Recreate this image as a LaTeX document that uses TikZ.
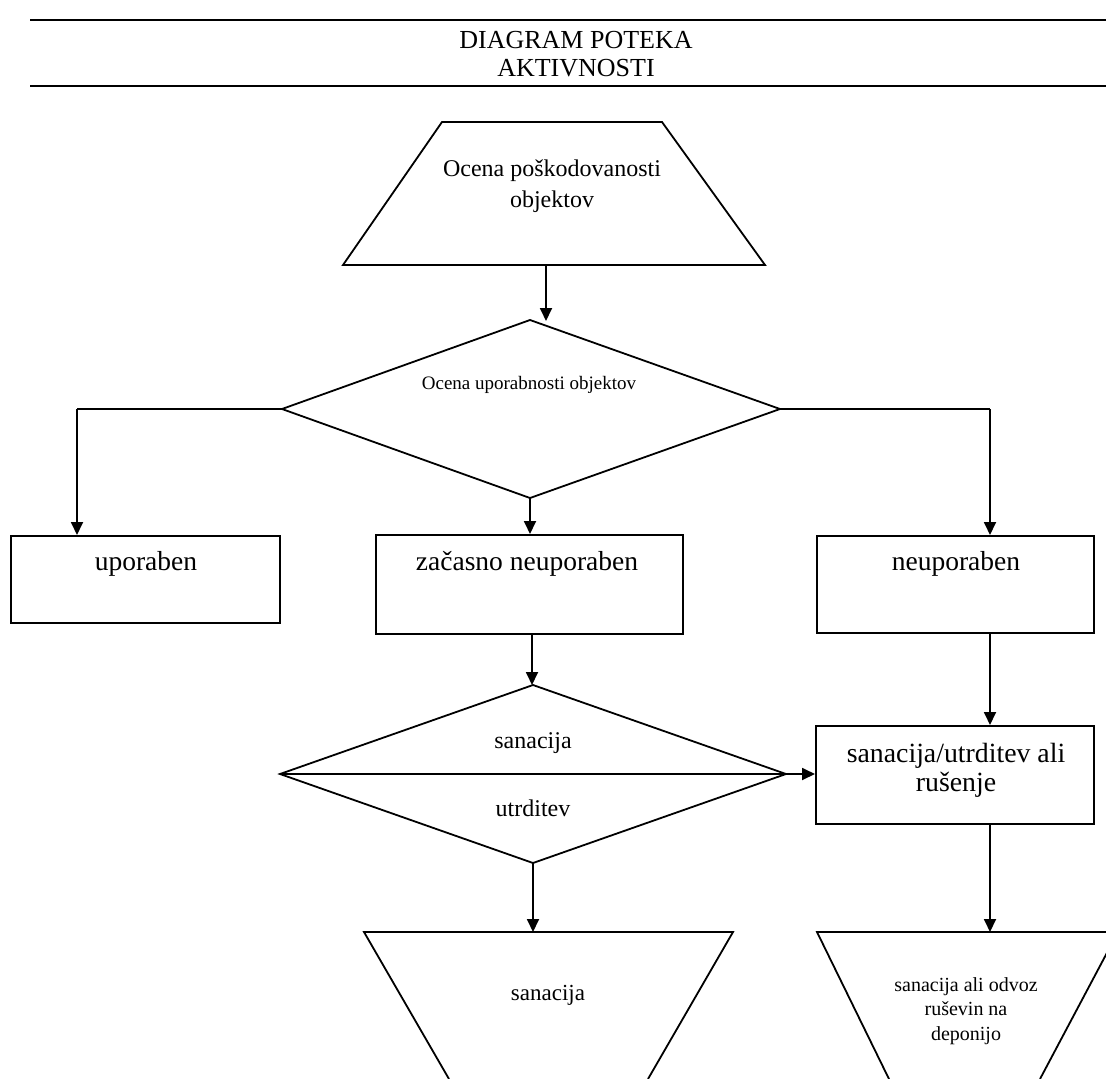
\documentclass[tikz,border=0pt]{standalone}
\usepackage{fontspec}
\setmainfont{Liberation Serif}
\usetikzlibrary{arrows.meta}
\begin{document}
\begin{tikzpicture}[x=1pt,y=-1pt,
  ln/.style={line width=1.8pt, line join=miter},
  arr/.style={ln, -{Triangle[length=13pt,width=12pt]}},
  hdr/.style={line width=2.8pt},
  boxst/.style={ln, draw, rectangle, inner sep=0pt, anchor=north west},
  txt/.style={inner sep=0pt, anchor=base, align=center},
  ]
\useasboundingbox (0,0) rectangle (1106,1079);
% header
\coordinate (h1a) at (30,20); \coordinate (h1b) at (1106,20);
\coordinate (h2a) at (30,86); \coordinate (h2b) at (1106,86);
\draw[hdr] (h1a) -- (h1b);
\draw[hdr] (h2a) -- (h2b);
\node[txt, font=\fontsize{26}{28}\selectfont] (title) at (576,76) {DIAGRAM POTEKA\\AKTIVNOSTI};
% top trapezoid
\coordinate (tA) at (442,122); \coordinate (tB) at (662,122);
\coordinate (tC) at (765,265); \coordinate (tD) at (343,265);
\draw[ln] (tA) -- (tB) -- (tC) -- (tD) -- cycle;
\node[txt, font=\fontsize{24}{31}\selectfont] (ttext) at (552,207) {Ocena poškodovanosti\\objektov};
% diamond 1
\coordinate (d1t) at (530,320); \coordinate (d1r) at (780,409);
\coordinate (d1b) at (530,498); \coordinate (d1l) at (282,409);
\draw[ln] (d1t) -- (d1r) -- (d1b) -- (d1l) -- cycle;
\node[txt, font=\fontsize{19}{22}\selectfont] (d1text) at (529,389) {Ocena uporabnosti objektov};
% boxes
\node[boxst, minimum width=269pt, minimum height=87pt] (upb) at (10,535) {};
\node[boxst, minimum width=307pt, minimum height=99pt] (zac) at (375,534) {};
\node[boxst, minimum width=277pt, minimum height=97pt] (neu) at (816,535) {};
\node[boxst, minimum width=278pt, minimum height=98pt] (san) at (815,725) {};
\node[txt, font=\fontsize{27.5}{30}\selectfont] (upbt) at (146,570) {uporaben};
\node[txt, font=\fontsize{27.5}{30}\selectfont] (zact) at (527,570) {začasno neuporaben};
\node[txt, font=\fontsize{27.5}{30}\selectfont] (neut) at (956,570) {neuporaben};
\node[txt, font=\fontsize{27.8}{29}\selectfont] (sant) at (956,791) {sanacija/utrditev ali\\rušenje};
% diamond 2
\coordinate (d2t) at (533,685); \coordinate (d2r) at (786,774);
\coordinate (d2b) at (533,863); \coordinate (d2l) at (280,774);
\draw[ln] (d2t) -- (d2r) -- (d2b) -- (d2l) -- cycle;
\draw[ln] (d2l) -- (d2r);
\node[txt, font=\fontsize{24}{28}\selectfont] (d2u) at (533,748) {sanacija};
\node[txt, font=\fontsize{24}{28}\selectfont] (d2d) at (533,816) {utrditev};
% bottom trapezoids
\coordinate (bA) at (364,932); \coordinate (bB) at (733,932);
\coordinate (bC) at (648,1079); \coordinate (bD) at (449,1079);
\draw[ln] (bD) -- (bA) -- (bB) -- (bC);
\node[txt, font=\fontsize{23}{28}\selectfont] (bltext) at (548,1000) {sanacija};
\coordinate (cA) at (817,932); \coordinate (cB) at (1118,932);
\coordinate (cC) at (1040,1079); \coordinate (cD) at (889,1079);
\draw[ln] (cD) -- (cA) -- (cB) -- (cC);
\node[txt, font=\fontsize{20}{24.5}\selectfont] (brtext) at (966,1040) {sanacija ali odvoz\\ruševin na\\deponijo};
% connectors
\coordinate (tout) at (546,265); \coordinate (d1in) at (546,321);
\draw[arr] (tout) -- (d1in);
\coordinate (hl) at (77,409); \coordinate (hr) at (990,409);
\draw[ln] (d1l) -- (hl);
\draw[ln] (d1r) -- (hr);
\draw[arr] (hl) -- (upb.north -| hl);
\draw[arr] (hr) -- (neu.north -| hr);
\draw[arr] (d1b) -- (zac.north -| d1b);
\coordinate (zout) at (532,633);
\draw[arr] (zout) -- (d2t -| zout);
\draw[arr] (d2r) -- (san.west |- d2r);
\draw[arr] (neu.south -| hr) -- (san.north -| hr);
\coordinate (sout) at (990,823); \coordinate (cin) at (990,932);
\draw[arr] (sout) -- (cin);
\coordinate (bin) at (533,932);
\draw[arr] (d2b) -- (bin);
\end{tikzpicture}
\end{document}
